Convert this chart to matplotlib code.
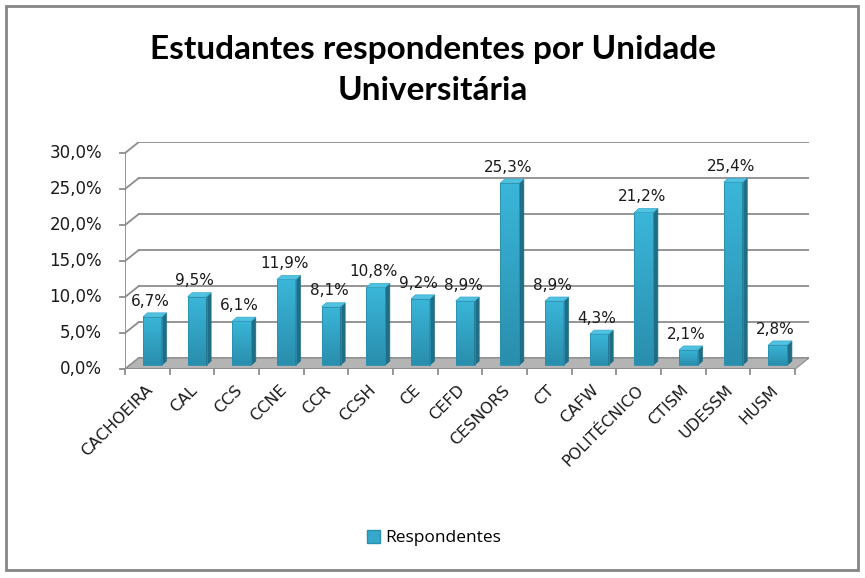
import matplotlib.pyplot as plt
import numpy as np
from matplotlib.patches import Polygon, Rectangle, Patch
from matplotlib.colors import LinearSegmentedColormap

# dados
unidades = ['CACHOEIRA', 'CAL', 'CCS', 'CCNE', 'CCR', 'CCSH', 'CE', 'CEFD', 'CESNORS',
            'CT', 'CAFW', 'POLITÉCNICO', 'CTISM', 'UDESSM', 'HUSM']
respondentes = [6.7, 9.5, 6.1, 11.9, 8.1, 10.8, 9.2, 8.9, 25.3, 8.9, 4.3, 21.2, 2.1, 25.4, 2.8]
yticks = [0, 5, 10, 15, 20, 25, 30]
ytick_labels = ['0,0%', '5,0%', '10,0%', '15,0%', '20,0%', '25,0%', '30,0%']

W, H = 865, 578
fig = plt.figure(figsize=(W / 100, H / 100), dpi=100)
fig.patches.append(Rectangle((6 / W, 1 - 570 / H), 852 / W, 564 / H, transform=fig.transFigure,
                             fill=False, ec='#858585', lw=2))

ax = fig.add_axes([125 / W, (H - 369) / H, (809 - 125) / W, 227 / H])
n = len(unidades)
dx, dy = 0.31, 1.53   # profundidade do "3D"
ax.set_xlim(0, n + dx)
ax.set_ylim(0, 30 + dy)
ax.axis('off')

grid_c = '#8c8c8c'
# chao
ax.add_patch(Polygon([(0, 0), (n, 0), (n + dx, dy), (dx, dy)], closed=True,
                     fc='#b4b4b4', ec='#8c8c8c', lw=0.8, zorder=1))
# grade da parede de fundo
for v in yticks:
    ax.plot([dx, n + dx], [v + dy, v + dy], color=grid_c, lw=1.3, zorder=0.5)
    ax.plot([0, dx], [v, v + dy], color=grid_c, lw=1.3, zorder=0.5)
    ax.plot([0, -0.11], [v, v], color=grid_c, lw=1.3, clip_on=False)
ax.plot([0, 0], [0, 30], color=grid_c, lw=1.3, zorder=0.5)
ax.plot([0, n], [0, 0], color=grid_c, lw=1.3, zorder=2)
for i in range(n + 1):
    ax.plot([i, i], [0, -0.75], color=grid_c, lw=1.3, clip_on=False)

for v, lbl in zip(yticks, ytick_labels):
    ax.text(-0.51, v, lbl, ha='right', va='center', fontsize=12, color='#1a1a1a')

cmap = LinearSegmentedColormap.from_list('barra', ['#2a8ead', '#3ab6d9'])
grad = np.linspace(0, 1, 100).reshape(-1, 1)
bw, sx, sy, base = 0.425, 0.1, 0.55, 0.55
for i, (v, nome) in enumerate(zip(respondentes, unidades)):
    x0 = i + 0.5 + 0.115 - bw / 2
    top = base + v
    frente = Rectangle((x0, base), bw, v, fc='none', ec='#2a8ead', lw=0.6, zorder=4)
    ax.add_patch(frente)
    im = ax.imshow(grad, cmap=cmap, origin='lower', aspect='auto',
                   extent=(x0, x0 + bw, base, top), zorder=3)
    im.set_clip_path(frente)
    ax.add_patch(Polygon([(x0 + bw, base), (x0 + bw + sx, base + sy),
                          (x0 + bw + sx, top + sy), (x0 + bw, top)],
                         closed=True, fc='#1f6e85', ec='#1f6e85', lw=0.5, zorder=3))
    ax.add_patch(Polygon([(x0, top), (x0 + bw, top), (x0 + bw + sx, top + sy), (x0 + sx, top + sy)],
                         closed=True, fc='#50c2e2', ec='#3aa9c9', lw=0.5, zorder=4))
    ax.text(x0 + bw / 2 - 0.05, top + sy + 0.6, f'{v:.1f}%'.replace('.', ','),
            ha='center', va='bottom', fontsize=11, color='#1a1a1a')
    ax.text(i + 0.56, -2.6, nome, rotation=45, ha='right', va='center',
            rotation_mode='anchor', fontsize=11.5, color='#1a1a1a')

ax.set_xlim(0, n + dx)
ax.set_ylim(0, 30 + dy)

fig.text(0.5, 1 - 70 / H, 'Estudantes respondentes por Unidade\nUniversitária', ha='center',
         va='center', fontsize=24, fontweight='bold', family=['Lato', 'DejaVu Sans'],
         linespacing=1.5)

fig.legend(handles=[Patch(fc='#35a9cc', ec='#2a8ead')], labels=['Respondentes'],
           loc='center', bbox_to_anchor=(434 / W, 1 - 538 / H), frameon=False,
           handlelength=0.8, handleheight=0.8, handletextpad=0.3,
           prop={'family': ['Open Sans', 'DejaVu Sans'], 'size': 12.5})

fig.savefig('out.png', dpi=100)
